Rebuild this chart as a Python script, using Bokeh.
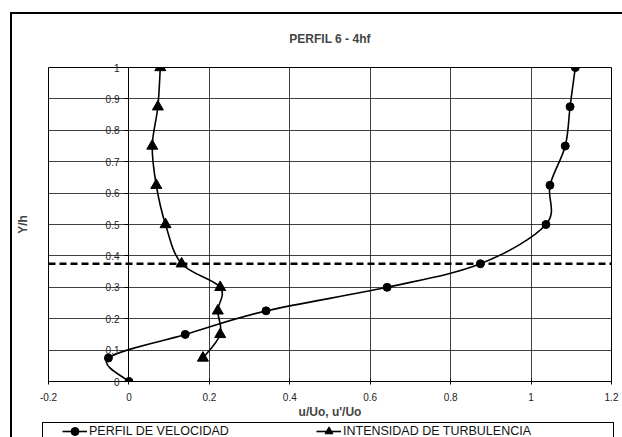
import numpy as np
from bokeh.plotting import figure
from bokeh.layouts import column
from bokeh.models import (Range1d, FixedTicker, Legend, LegendItem, Span, LinearAxis,
                          ColumnDataSource, InlineStyleSheet)
from bokeh.embed import file_html
from bokeh.resources import INLINE

# ---------------- data ----------------
y_levels = [0.0, 0.075, 0.15, 0.225, 0.3, 0.375, 0.5, 0.625, 0.75, 0.875, 1.0]
velocity = [0.0, -0.051, 0.140, 0.341, 0.642, 0.874, 1.037, 1.047, 1.085, 1.097, 1.110]

turb_levels = [0.075, 0.15, 0.225, 0.3, 0.375, 0.5, 0.625, 0.75, 0.875, 1.0]
turbulence = [0.184, 0.227, 0.221, 0.227, 0.131, 0.091, 0.068, 0.058, 0.072, 0.078]

reference_level = 0.375

x_ticks = [-0.2, 0.0, 0.2, 0.4, 0.6, 0.8, 1.0, 1.2]
x_tick_labels = ["-0.2", "0", "0.2", "0.4", "0.6", "0.8", "1", "1.2"]
y_ticks = [0.0, 0.1, 0.2, 0.3, 0.4, 0.5, 0.6, 0.7, 0.8, 0.9, 1.0]
y_tick_labels = ["0", "0.1", "0.2", "0.3", "0.4", "0.5", "0.6", "0.7", "0.8", "0.9", "1"]

series_names = ["PERFIL DE VELOCIDAD", "INTENSIDAD DE TURBULENCIA"]
title_text = "PERFIL 6 - 4hf"
x_title = "u/Uo, u'/Uo"
y_title = "Y/h"

FONT = "Liberation Sans"


def smooth_segments(xs, ys):
    """Bezier control points for a smooth curve through the points."""
    x = np.asarray(xs, float)
    y = np.asarray(ys, float)
    n = len(x)
    d = dict(x0=[], y0=[], x1=[], y1=[], cx0=[], cy0=[], cx1=[], cy1=[])
    for i in range(n - 1):
        ip = max(i - 1, 0)
        inn = min(i + 2, n - 1)
        d["x0"].append(x[i]); d["y0"].append(y[i])
        d["x1"].append(x[i + 1]); d["y1"].append(y[i + 1])
        d["cx0"].append(x[i] + (x[i + 1] - x[ip]) / 6.0)
        d["cy0"].append(y[i] + (y[i + 1] - y[ip]) / 6.0)
        d["cx1"].append(x[i + 1] - (x[inn] - x[i]) / 6.0)
        d["cy1"].append(y[i + 1] - (y[inn] - y[i]) / 6.0)
    return ColumnDataSource(d)


W, H, LEG_H = 622, 421, 16
p = figure(width=W, height=H, output_backend="svg", toolbar_location=None,
           x_range=Range1d(-0.2, 1.2), y_range=Range1d(0, 1),
           min_border_left=48, min_border_right=11, min_border_top=67,
           min_border_bottom=40, background_fill_color="white",
           border_fill_color="white")

# title
p.title.text = title_text
p.title.align = "center"
p.title.text_font = FONT
p.title.text_font_size = "12px"
p.title.text_font_style = "bold"
p.title.standoff = 43

p.outline_line_color = "#000000"
p.outline_line_width = 1

# grids
p.xgrid.ticker = FixedTicker(ticks=x_ticks)
p.ygrid.ticker = FixedTicker(ticks=y_ticks)
for g in (p.xgrid, p.ygrid):
    g.grid_line_color = "#000000"
    g.grid_line_width = 1
    g.grid_line_alpha = 0.75

# x axis (bottom)
xa = p.xaxis[0]
xa.ticker = FixedTicker(ticks=x_ticks)
xa.major_label_overrides = {t: l for t, l in zip(x_ticks, x_tick_labels)}
xa.major_tick_in = 3
xa.major_tick_out = 3
xa.minor_tick_in = 0
xa.minor_tick_out = 0
xa.major_label_standoff = 8
xa.major_label_text_font = FONT
xa.major_label_text_font_size = "10px"
xa.major_label_text_color = "#222222"
xa.axis_label = x_title
xa.axis_label_text_font = FONT
xa.axis_label_text_font_size = "12px"
xa.axis_label_text_font_style = "bold"
xa.axis_label_standoff = 1

# y axis line and ticks placed at x = 0 (labels come from the axis below)
ya = p.yaxis[0]
ya.fixed_location = 0
ya.ticker = FixedTicker(ticks=y_ticks)
ya.major_label_overrides = {t: "" for t in y_ticks}
ya.major_tick_in = 0
ya.major_tick_out = 4
ya.minor_tick_in = 0
ya.minor_tick_out = 0
ya.axis_line_color = "#000000"

# y tick labels, shifted next to the x = 0 line, plus the Y/h title
lab_axis = LinearAxis(ticker=FixedTicker(ticks=y_ticks),
                      major_label_overrides={t: l for t, l in zip(y_ticks, y_tick_labels)},
                      major_tick_in=0, major_tick_out=0, minor_tick_in=0,
                      minor_tick_out=0, axis_line_color=None,
                      major_label_standoff=-71,
                      major_label_text_font=FONT,
                      major_label_text_font_size="10px",
                      major_label_text_color="#222222",
                      axis_label=y_title, axis_label_standoff=73,
                      axis_label_text_font=FONT,
                      axis_label_text_font_size="12px",
                      axis_label_text_font_style="bold")
p.left = [lab_axis] + list(p.left)

# dashed reference level
p.add_layout(Span(location=reference_level, dimension="width",
                  line_color="#000000", line_width=2.5, line_dash="7 4"))

# series
vel_src = smooth_segments(velocity, y_levels)
tur_src = smooth_segments(turbulence, turb_levels)

p.bezier(x0="x0", y0="y0", x1="x1", y1="y1", cx0="cx0", cy0="cy0",
         cx1="cx1", cy1="cy1", source=vel_src, line_color="#000000",
         line_width=1.6)
p.scatter(velocity, y_levels, marker="circle", size=8,
          fill_color="#000000", line_color="#000000")
p.bezier(x0="x0", y0="y0", x1="x1", y1="y1", cx0="cx0", cy0="cy0",
         cx1="cx1", cy1="cy1", source=tur_src, line_color="#000000",
         line_width=1.6)
p.scatter(turbulence, turb_levels, marker="triangle", size=11,
          fill_color="#000000", line_color="#000000")

# ---------------- legend strip (below the chart) ----------------
lp = figure(width=W, height=LEG_H, output_backend="svg", toolbar_location=None,
            title=None, x_axis_location=None, y_axis_location=None,
            x_range=Range1d(0, 1), y_range=Range1d(0, 1), min_border=0,
            outline_line_color=None, background_fill_color="white",
            border_fill_color="white")
lp.xgrid.visible = False
lp.ygrid.visible = False

# hidden copies of the series: only their legend samples are shown
vl = lp.line(velocity, y_levels, line_color="#000000", line_width=1.6, visible=False)
vm = lp.scatter(velocity, y_levels, marker="circle", fill_color="#000000",
                line_color="#000000", visible=False)
tl = lp.line(turbulence, turb_levels, line_color="#000000", line_width=1.6, visible=False)
tm = lp.scatter(turbulence, turb_levels, marker="triangle", fill_color="#000000",
                line_color="#000000", visible=False)

legend = Legend(items=[LegendItem(label=series_names[0], renderers=[vl, vm]),
                       LegendItem(label=series_names[1], renderers=[tl, tm])],
                orientation="horizontal", location=(14, -4),
                padding=0, spacing=7, glyph_width=25, glyph_height=20,
                label_height=20, label_width=220, label_standoff=2,
                label_text_font=FONT, label_text_font_size="12.5px",
                label_text_color="#111111",
                border_line_alpha=0, background_fill_alpha=0, margin=0)
lp.add_layout(legend, "center")

root = column(p, lp, spacing=0)

# chart-area border (left/top) and legend box, drawn by CSS
root.stylesheets = [InlineStyleSheet(css="""
:host::after {
  content: ""; position: absolute; left: 10px; top: 12px; width: 612px; height: 425px;
  border-left: 2px solid #000; border-top: 2px solid #000;
  pointer-events: none; box-sizing: border-box; z-index: 10;
}
:host::before {
  content: ""; position: absolute; left: 42px; top: 422px; width: 572px; height: 15px;
  border-left: 1px solid #000; border-top: 1px solid #000; border-right: 1px solid #000;
  pointer-events: none; box-sizing: border-box; z-index: 10;
}
""")]

open("out.html", "w").write(file_html(root, INLINE))
